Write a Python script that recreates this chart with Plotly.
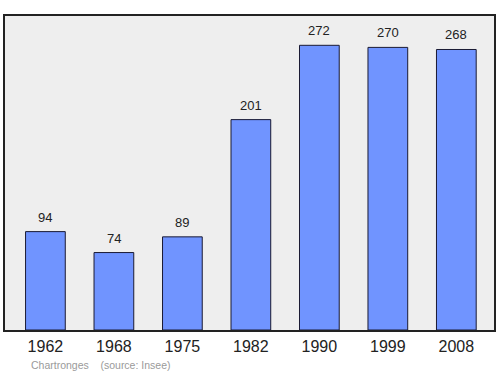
import plotly.graph_objects as go

years = ["1962", "1968", "1975", "1982", "1990", "1999", "2008"]
population = [94, 74, 89, 201, 272, 270, 268]
source_text = "Chartronges    (source: Insee)"

FONT = "Liberation Sans, Arial, sans-serif"
xs = list(range(len(years)))

fig = go.Figure()
fig.add_trace(go.Bar(
    x=xs, y=population, width=0.58,
    marker=dict(color="#7094ff", line=dict(color="#1a1a33", width=1)),
    hoverinfo="skip",
))

for x, v in zip(xs, population):
    fig.add_annotation(x=x, y=v, text=str(v), showarrow=False,
                       yanchor="bottom", yshift=5,
                       font=dict(family=FONT, size=13, color="#222222"))

fig.add_annotation(xref="paper", yref="paper", x=(29 - 5) / 489, y=-(365 - 330) / 314,
                   xanchor="left", yanchor="middle", text=source_text, showarrow=False,
                   font=dict(family=FONT, size=10.5, color="#9a9a9a"))

fig.update_layout(
    width=500, height=374,
    margin=dict(l=5, r=6, t=16, b=44),
    paper_bgcolor="white", plot_bgcolor="#eeeeee",
    showlegend=False,
    xaxis=dict(range=[-0.59, 6.55], tickmode="array", tickvals=xs, ticktext=years,
               showgrid=False, zeroline=False, showline=True, mirror=True,
               linecolor="#222222", linewidth=1.5, ticks="", ticklen=0,
               ticklabelstandoff=1,
               tickfont=dict(family=FONT, size=16, color="#222222")),
    yaxis=dict(range=[0, 300], showgrid=False, zeroline=False, showticklabels=False,
               showline=True, mirror=True, linecolor="#222222", linewidth=1.5, ticks=""),
)

fig.write_html("out.html")
